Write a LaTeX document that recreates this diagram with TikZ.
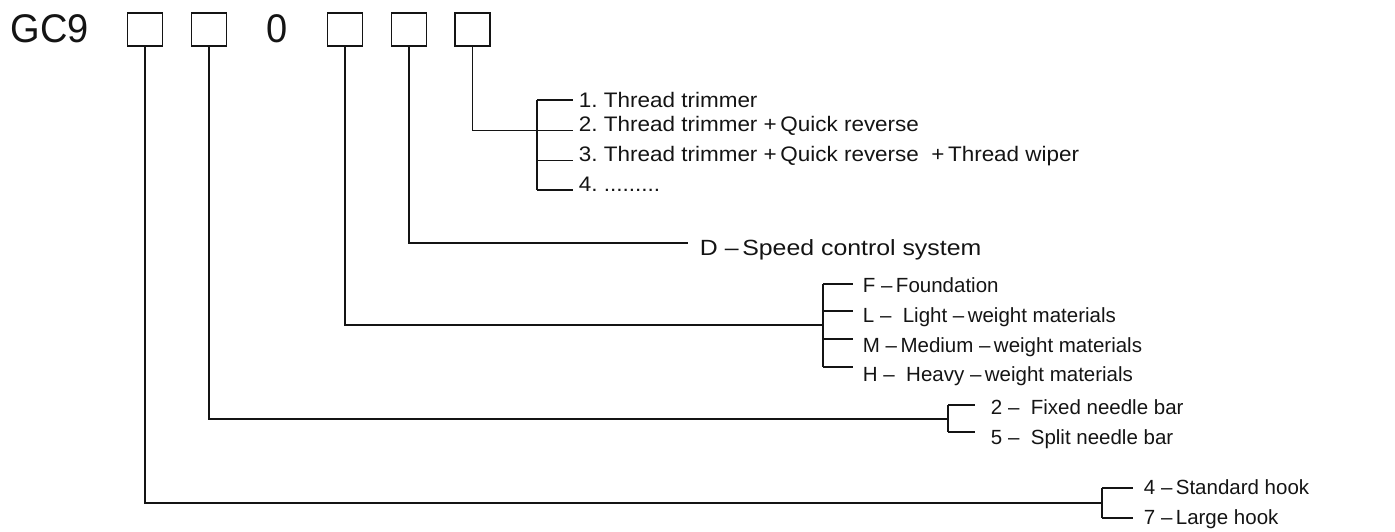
\documentclass[tikz,border=0pt]{standalone}
\usepackage{fontspec}
\setmainfont{Liberation Sans}
\newfontfamily\bigfont{Liberation Sans}[FakeStretch=0.95]
\newfontfamily\thrfont{Liberation Sans}[FakeStretch=1.07]
\newfontfamily\dfont{Liberation Sans}[FakeStretch=1.13]
\newfontfamily\lowfont{Liberation Sans}[FakeStretch=1.0]
\frenchspacing
\definecolor{ink}{HTML}{141414}
\begin{document}
\begin{tikzpicture}[x=1pt,y=-1pt,
  line width=1.9pt, draw=ink, text=ink,
  codebox/.style={draw,minimum width=35pt,minimum height=33pt,inner sep=0pt,line width=1.6pt},
  bigtxt/.style={inner sep=0pt,anchor=base west,font=\bigfont\fontsize{40}{40}\selectfont},
  thr/.style={anchor=base west,inner sep=0pt,font=\thrfont\fontsize{21}{21}\selectfont},
  dtxt/.style={anchor=base west,inner sep=0pt,font=\dfont\fontsize{22}{22}\selectfont},
  low/.style={anchor=base west,inner sep=0pt,font=\lowfont\fontsize{20.5}{20.5}\selectfont}]
\useasboundingbox (0,0) rectangle (1395,531);
% top row
\node[bigtxt] (gc) at (10,42) {GC9};
\node[codebox] (b1) at (145,29.5) {};
\node[codebox] (b2) at (209,29.5) {};
\node[bigtxt] (zero) at (266,42) {0};
\node[codebox] (b3) at (345,29.5) {};
\node[codebox] (b4) at (409,29.5) {};
\node[codebox] (b5) at (472.5,29.5) {};
% bracket junctions
\coordinate (j5) at (537,130.5);
\coordinate (j3) at (823,325);
\coordinate (j2) at (948,419);
\coordinate (j1) at (1102,503);
% tick ends
\coordinate (e1) at (573,100);
\coordinate (e2) at (573,130.5);
\coordinate (e3) at (573,160.5);
\coordinate (e4) at (573,190);
\coordinate (ed) at (688,243);
\coordinate (ef) at (853,284);
\coordinate (el) at (853,311);
\coordinate (em) at (853,339);
\coordinate (eh) at (853,367);
\coordinate (en2) at (975,405);
\coordinate (en5) at (975,432);
\coordinate (ek4) at (1133,488);
\coordinate (ek7) at (1133,518);
% items box 5
\node[thr] (t1) at (578,107.5) {1. Thread trimmer};
\node[thr] (t2) at (578,131.5) {2. Thread trimmer +\,Quick reverse};
\node[thr] (t3) at (578,161.5) {3. Thread trimmer +\,Quick reverse \ +\,Thread wiper};
\node[thr] (t4) at (578,191) {4. .........};
% item box 4
\node[dtxt] (d) at (699,255) {D –\,Speed control system};
% items box 3
\node[low] (f) at (862,292) {F –\,Foundation};
\node[low] (l) at (862,322) {L – \ Light –\,weight materials};
\node[low] (m) at (862,352) {M –\,Medium –\,weight materials};
\node[low] (h) at (862,381) {H – \ Heavy –\,weight materials};
% items box 2
\node[low] (n2) at (990,414.5) {2 – \ Fixed needle bar};
\node[low] (n5) at (990,444) {5 – \ Split needle bar};
% items box 1
\node[low] (k4) at (1143,494.5) {4 –\,Standard hook};
\node[low] (k7) at (1143,524.5) {7 –\,Large hook};
% connectors
\draw (b5.south) |- (j5);
\draw (j5|-e1) -- (j5|-e4);
\foreach \e in {e1,e2,e3,e4} \draw (j5|-\e) -- (\e);
\draw (b4.south) |- (ed);
\draw (b3.south) |- (j3);
\draw (j3|-ef) -- (j3|-eh);
\foreach \e in {ef,el,em,eh} \draw (j3|-\e) -- (\e);
\draw (b2.south) |- (j2);
\draw (j2|-en2) -- (j2|-en5);
\foreach \e in {en2,en5} \draw (j2|-\e) -- (\e);
\draw (b1.south) |- (j1);
\draw (j1|-ek4) -- (j1|-ek7);
\foreach \e in {ek4,ek7} \draw (j1|-\e) -- (\e);
\end{tikzpicture}
\end{document}
